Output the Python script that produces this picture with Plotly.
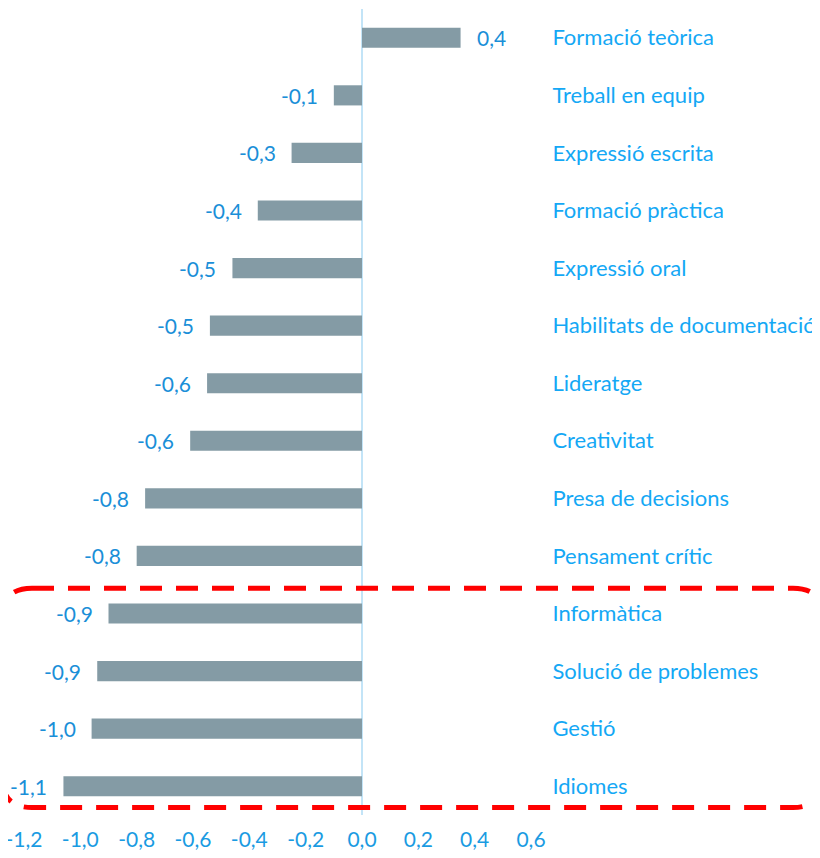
import plotly.graph_objects as go

# data (top to bottom)
competencies = [
    "Formació teòrica", "Treball en equip", "Expressió escrita", "Formació pràctica",
    "Expressió oral", "Habilitats de documentació", "Lideratge", "Creativitat",
    "Presa de decisions", "Pensament crític", "Informàtica", "Solució de problemes",
    "Gestió", "Idiomes",
]
gap_values = [0.35, -0.10, -0.25, -0.37, -0.46, -0.54, -0.55, -0.61,
              -0.77, -0.80, -0.90, -0.94, -0.96, -1.06]
value_labels = ["0,4", "-0,1", "-0,3", "-0,4", "-0,5", "-0,5", "-0,6", "-0,6",
                "-0,8", "-0,8", "-0,9", "-0,9", "-1,0", "-1,1"]
tick_vals = [-1.2, -1.0, -0.8, -0.6, -0.4, -0.2, 0.0, 0.2, 0.4, 0.6]
tick_text = ["-1,2", "-1,0", "-0,8", "-0,6", "-0,4", "-0,2", "0,0", "0,2", "0,4", "0,6"]
highlighted = ["Informàtica", "Solució de problemes", "Gestió", "Idiomes"]

FONT = "Lato, 'Open Sans', sans-serif"
BAR_COLOR = "#849ba5"
VALUE_COLOR = "#1a8fd8"
CAT_COLOR = "#14a8f5"
TICK_COLOR = "#1a9be2"

# the page body adds 8px around the figure, so keep it inside the window
PAGE_OFF = 8
W, H = 812, 842
margin = dict(l=16, r=289, t=1, b=35)

fig = go.Figure(go.Bar(
    x=gap_values, y=competencies, orientation="h",
    marker=dict(color=BAR_COLOR, line=dict(width=0)),
    width=0.35, hoverinfo="skip",
))

# value labels beside each bar
for cat, val, lab in zip(competencies, gap_values, value_labels):
    fig.add_annotation(
        x=val, y=cat, text=lab, showarrow=False,
        xanchor="left" if val >= 0 else "right",
        xshift=14 if val >= 0 else -14,
        font=dict(family=FONT, size=21, color=VALUE_COLOR),
    )

# red dashed rounded box around the highlighted group (paper coords)
n = len(competencies)
first = competencies.index(highlighted[0])
last = competencies.index(highlighted[-1])
y_top = (n - 0.5 - (first - 0.44)) / n
y_bot = (n - 0.5 - (last + 0.37)) / n
plot_w = W - margin["l"] - margin["r"]
plot_h = H - margin["t"] - margin["b"]
x_left = (2 - PAGE_OFF - margin["l"]) / plot_w
x_right = (823 - PAGE_OFF - margin["l"]) / plot_w
rx = 30 / plot_w
ry = 30 / plot_h
path = (
    f"M {x_left + rx} {y_top} L {x_right - rx} {y_top} "
    f"Q {x_right} {y_top} {x_right} {y_top - ry} "
    f"L {x_right} {y_bot + ry} "
    f"Q {x_right} {y_bot} {x_right - rx} {y_bot} "
    f"L {x_left + rx} {y_bot} "
    f"Q {x_left} {y_bot} {x_left} {y_bot + ry} "
    f"L {x_left} {y_top - ry} "
    f"Q {x_left} {y_top} {x_left + rx} {y_top} Z"
)
fig.add_shape(type="path", path=path, xref="paper", yref="paper",
              line=dict(color="#ff0000", width=5, dash="22px,14px"), layer="above")

fig.update_layout(
    width=W, height=H,
    margin=margin,
    plot_bgcolor="white", paper_bgcolor="white",
    showlegend=False,
    bargap=0.65,
    font=dict(family=FONT),
)
fig.update_xaxes(
    range=[-1.2, 0.6], tickvals=tick_vals, ticktext=tick_text,
    showgrid=False, showline=False, zeroline=True,
    zerolinecolor="#c3e4f7", zerolinewidth=1.5,
    ticks="outside", ticklen=6, tickcolor="rgba(0,0,0,0)",
    tickfont=dict(family=FONT, size=21, color=TICK_COLOR),
    ticklabeloverflow="allow",
    automargin=False, fixedrange=True,
)
fig.update_yaxes(
    categoryorder="array", categoryarray=competencies,
    autorange="reversed", side="right",
    showgrid=False, showline=False, zeroline=False,
    ticks="outside", ticklen=16, tickcolor="rgba(0,0,0,0)",
    tickfont=dict(family=FONT, size=22, color=CAT_COLOR),
    ticklabeloverflow="allow",
    automargin=False, fixedrange=True,
)

fig.write_html("out.html")
